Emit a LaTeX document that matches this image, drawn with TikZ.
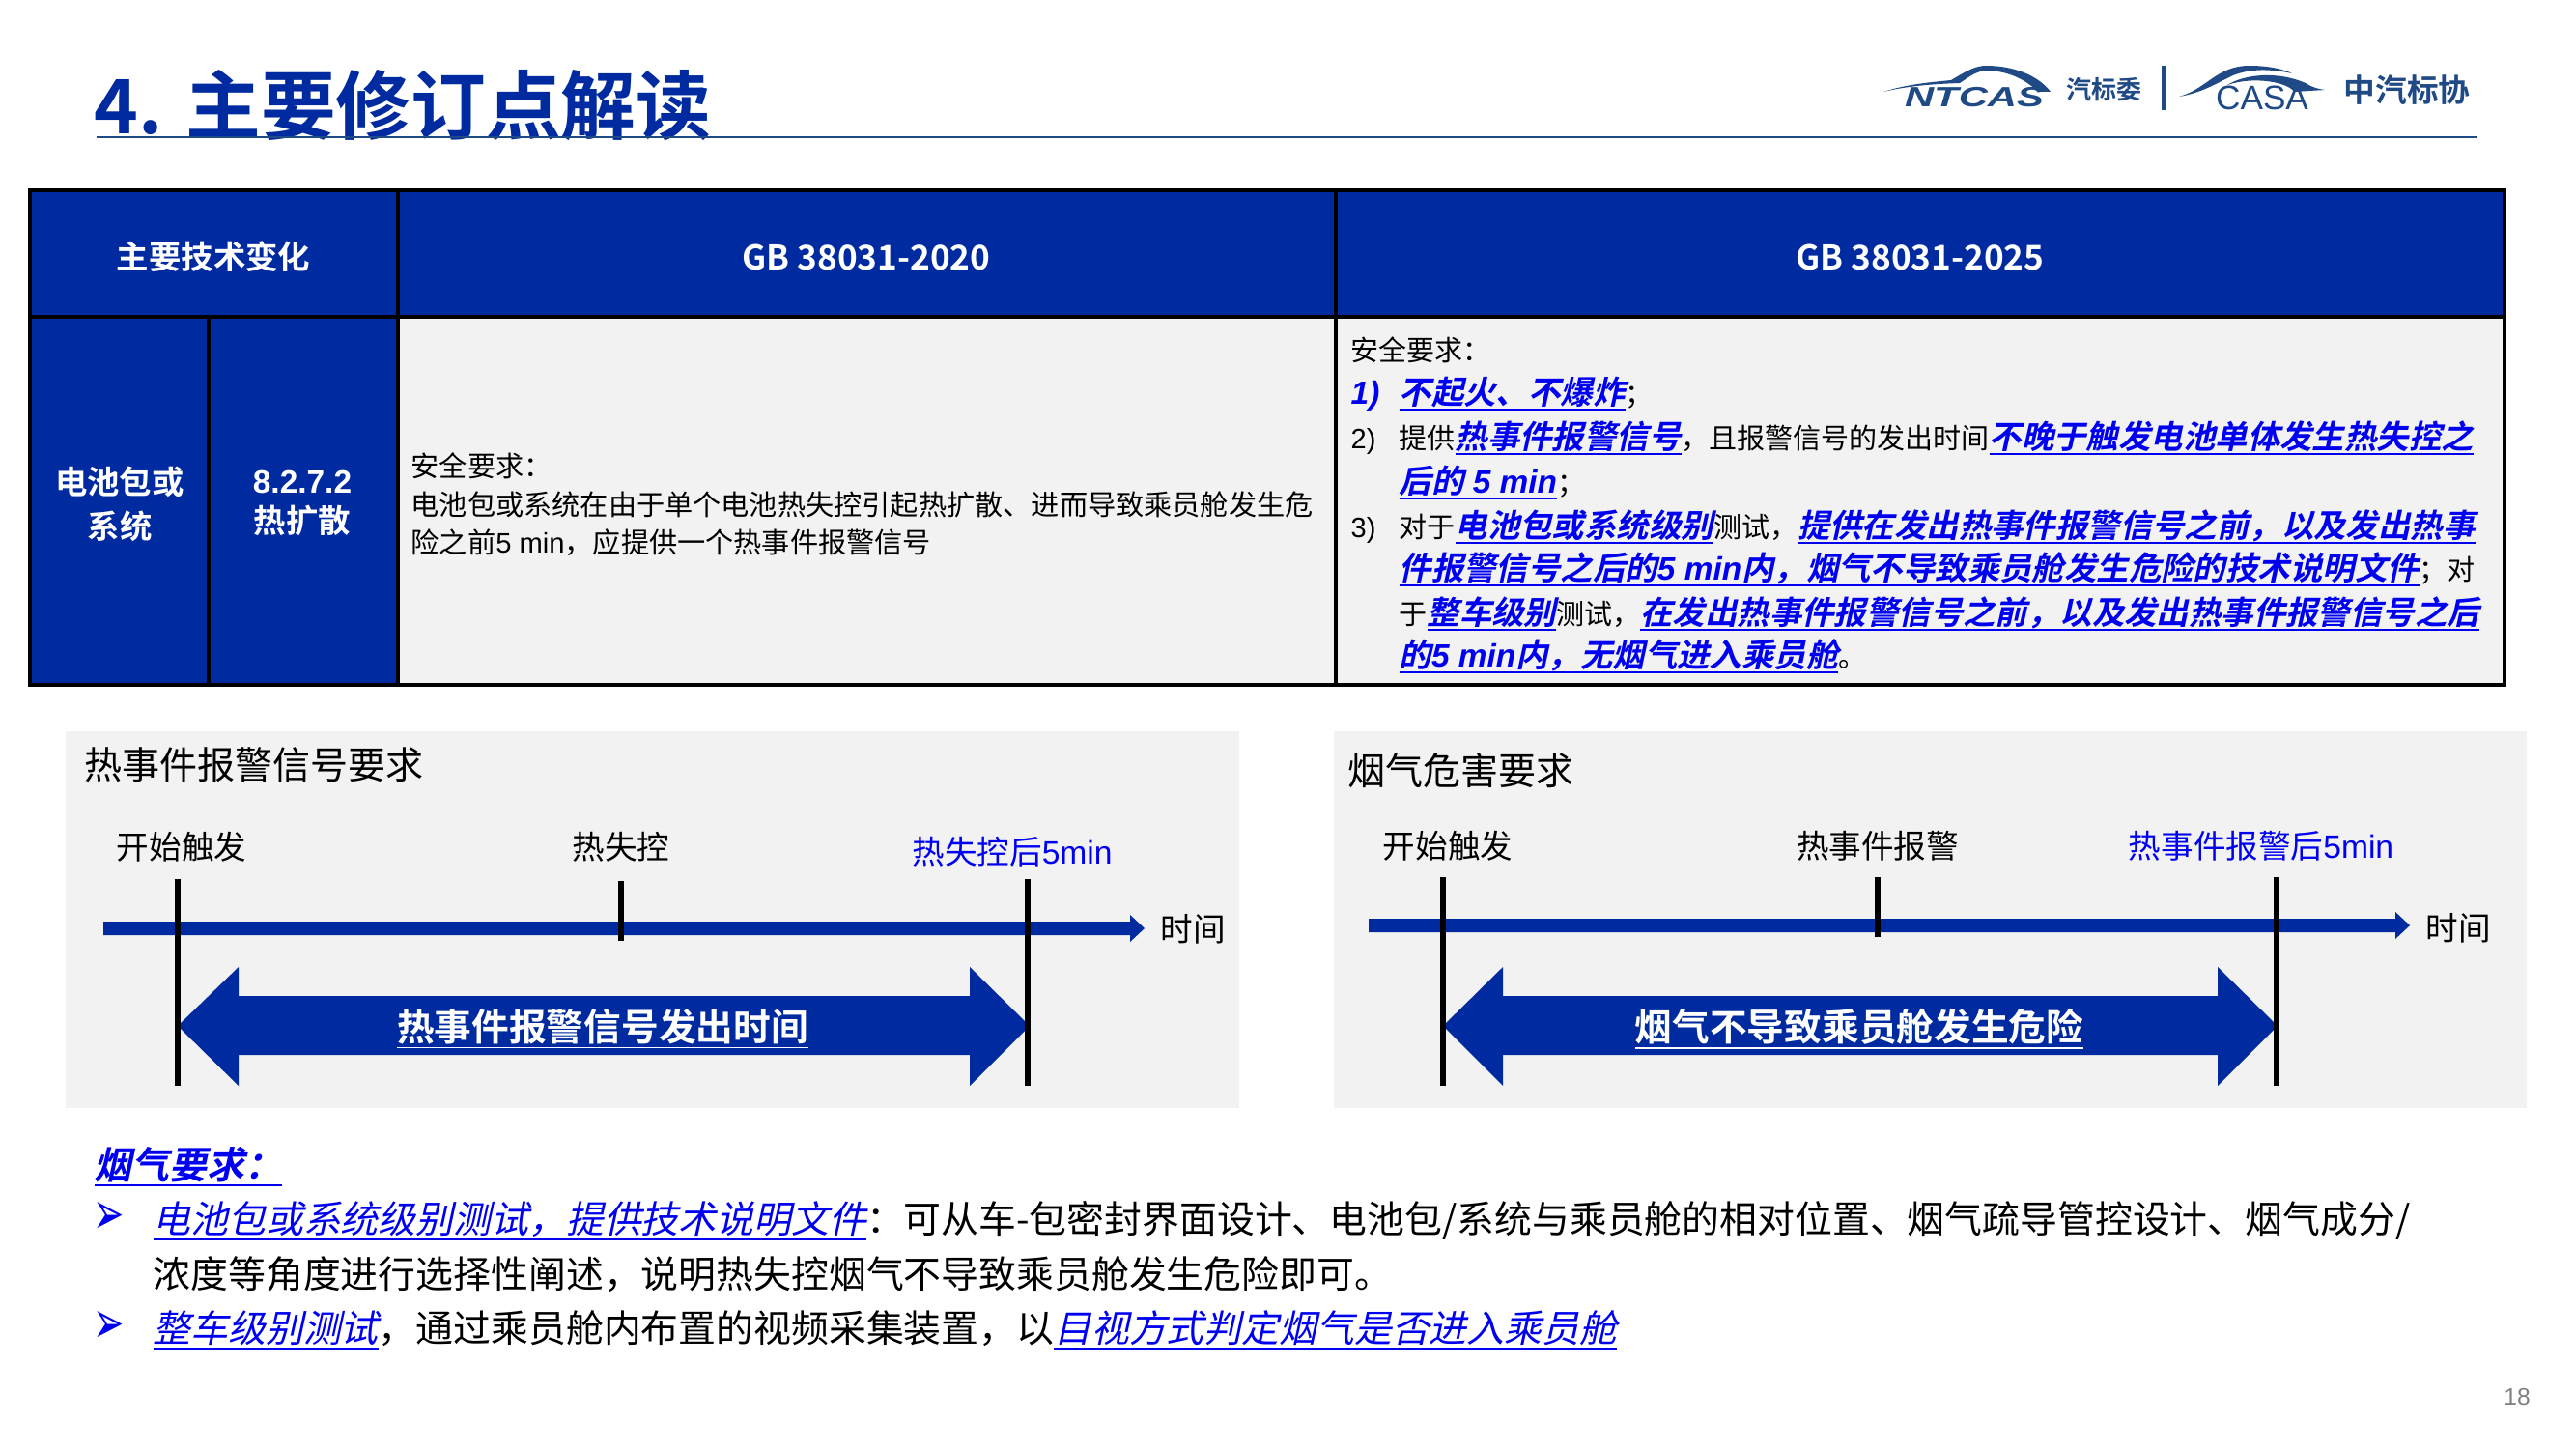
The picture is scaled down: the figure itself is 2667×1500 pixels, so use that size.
\documentclass[tikz,border=0pt]{standalone}
\usepackage{fontspec}
\setmainfont{Noto Sans CJK SC}[BoldFont={Noto Sans CJK SC Bold},ItalicFont={Noto Sans CJK SC},ItalicFeatures={FakeSlant=0.22},BoldItalicFont={Noto Sans CJK SC Bold},BoldItalicFeatures={FakeSlant=0.22}]
\newfontfamily\latinfont{Liberation Sans}
\newfontfamily\symbfont{DejaVu Sans}
\definecolor{headblue}{HTML}{002BA0}
\definecolor{keyblue}{HTML}{0000F0}
\definecolor{logoblue}{HTML}{1F4A86}
\definecolor{cellgray}{HTML}{F2F2F2}
\newcommand{\fs}[1]{\fontsize{#1}{#1}\selectfont}
\newcommand{\ulbox}[1]{\leavevmode\setbox0\hbox{#1}\rlap{\rule[-0.2em]{\wd0}{0.55pt}}\box0}
\newcommand{\keybold}[1]{{\color{keyblue}\bfseries\itshape\ulbox{#1}}}
\newcommand{\keylight}[1]{{\color{keyblue}\itshape\ulbox{#1}}}
\newcommand{\tablekey}[1]{{\fs{9.5}\keybold{#1}}}
\newcommand{\lat}[1]{{\latinfont #1}}
\tikzset{
  headcell/.style={draw=black,line width=0.9pt,fill=headblue},
  bodycell/.style={draw=black,line width=0.9pt,fill=cellgray},
  panel/.style={fill=cellgray,draw=none},
  headtext/.style={text=white,font=\fs{9.5}\bfseries,inner sep=0pt,align=center},
  standardtext/.style={text=white,font=\fs{10}\bfseries,inner sep=0pt},
  celltext/.style={anchor=west,inner sep=0pt,text height=0.85em,text depth=0.2em,font=\fs{8.3}},
  newtext/.style={anchor=west,inner sep=0pt,text height=0.85em,text depth=0.2em,font=\fs{8.25}},
  paneltitle/.style={anchor=west,inner sep=0pt,font=\fs{11.1}},
  marktext/.style={inner sep=0pt,font=\fs{9.55}},
  spantext/.style={text=white,inner sep=0pt,font=\fs{11}\bfseries},
  bigtext/.style={anchor=west,inner sep=0pt,text height=0.85em,text depth=0.2em,font=\fs{11.05}},
  bulletmark/.style={inner sep=0pt,text=keyblue,font=\symbfont\fs{11}},
  timeline/.style={fill=headblue,draw=none},
  tickmark/.style={line width=1.8pt,draw=black}
}
\begin{document}
\begin{tikzpicture}[x=0.01cm,y=-0.01cm]
  \useasboundingbox (0,0) rectangle (2667,1500);

  % title and logos
  \node[anchor=west,inner sep=0pt,text=headblue,font=\fs{22.1}\bfseries] (title) at (97,109) {4. 主要修订点解读};
  \draw[logoblue,line width=0.4pt] (100,142) -- (2565,142);
  \fill[logoblue] (1950,95) .. controls (1975,87) and (2000,85) .. (2020,83) .. controls (2035,74) and (2045,68) .. (2056,68)
    .. controls (2085,68) and (2110,78) .. (2123,95) -- (2110,95) .. controls (2095,80) and (2075,73) .. (2056,73)
    .. controls (2045,74) and (2038,80) .. (2029,86) .. controls (2000,87) and (1975,89) .. (1950,95) -- cycle;
  \node[inner sep=0pt,text=logoblue] (ntcas) at (2044,101) {\scalebox{1.45}[1]{\latinfont\bfseries\itshape\fs{8.2}NTCAS}};
  \node[inner sep=0pt,text=logoblue,font=\fs{7.4}\bfseries] (ntcasname) at (2178,93) {汽标委};
  \fill[logoblue] (2238,68) rectangle (2243,114);
  \fill[logoblue] (2256,100) .. controls (2285,92) and (2295,68) .. (2329,68) .. controls (2350,68) and (2365,72) .. (2373,76)
    .. controls (2350,71) and (2330,71) .. (2312,78) .. controls (2295,86) and (2280,96) .. (2256,100) -- cycle;
  \fill[logoblue] (2306,88) .. controls (2325,76) and (2360,74) .. (2387,86) .. controls (2395,91) and (2400,92) .. (2407,93)
    -- (2375,95) .. controls (2370,86) and (2335,78) .. (2306,88) -- cycle;
  \node[inner sep=0pt,text=logoblue] (casa) at (2342,101) {\latinfont\fs{10}CASA};
  \node[inner sep=0pt,text=logoblue,font=\fs{9.3}\bfseries] (casaname) at (2492,93) {中汽标协};

  % table
  \draw[headcell] (31,197) rectangle (412,328);
  \draw[headcell] (412,197) rectangle (1383,328);
  \draw[headcell] (1383,197) rectangle (2593,328);
  \draw[headcell] (31,328) rectangle (216,709);
  \draw[headcell] (216,328) rectangle (412,709);
  \draw[bodycell] (412,328) rectangle (1383,709);
  \draw[bodycell] (1383,328) rectangle (2593,709);
  \node[headtext] (headchange) at (221,266) {主要技术变化};
  \node[standardtext] (headold) at (897,266) {GB 38031-2020};
  \node[standardtext] (headnew) at (1988,266) {GB 38031-2025};
  \node[headtext] (rowpack) at (124,522) {电池包或\\[3.7pt]系统};
  \node[headtext] (rowclause) at (313,521) {\lat{8.2.7.2}\\[2pt]热扩散};

  \node[celltext] (oldone) at (425,482) {安全要求：};
  \node[celltext] (oldtwo) at (425,522) {电池包或系统在由于单个电池热失控引起热扩散、进而导致乘员舱发生危};
  \node[celltext] (oldthree) at (425,561) {险之前\lat{5 min}，应提供一个热事件报警信号};

  \node[newtext] (newzero) at (1398,362) {安全要求：};
  \node[newtext] (numone) at (1398,407) {\color{keyblue}\fs{9.5}\bfseries\itshape\lat{1)}};
  \node[newtext] (newone) at (1448,407) {\tablekey{不起火、不爆炸}；};
  \node[newtext] (numtwo) at (1398,453) {\lat{2)}};
  \node[newtext] (newtwo) at (1448,453) {提供\tablekey{热事件报警信号}，且报警信号的发出时间\tablekey{不晚于触发电池单体发生热失控之}};
  \node[newtext] (newthree) at (1448,499) {\tablekey{后的\lat{ 5 min}}；};
  \node[newtext] (numthree) at (1398,545) {\lat{3)}};
  \node[newtext] (newfour) at (1448,545) {对于\tablekey{电池包或系统级别}测试，\tablekey{提供在发出热事件报警信号之前，以及发出热事}};
  \node[newtext] (newfive) at (1448,589) {\tablekey{件报警信号之后的\lat{5 min}内，烟气不导致乘员舱发生危险的技术说明文件}；对};
  \node[newtext] (newsix) at (1448,635) {于\tablekey{整车级别}测试，\tablekey{在发出热事件报警信号之前，以及发出热事件报警信号之后}};
  \node[newtext] (newseven) at (1448,679) {\tablekey{的\lat{5 min}内，无烟气进入乘员舱}。};

  % left panel
  \fill[panel] (68,757) rectangle (1283,1147);
  \node[paneltitle] (alarmtitle) at (87,792) {热事件报警信号要求};
  \node[marktext] (alarmstart) at (188,877) {开始触发};
  \node[marktext] (alarmrunaway) at (643,877) {热失控};
  \node[marktext,text=keyblue] (alarmend) at (1048,882) {热失控后\lat{5min}};
  \node[marktext] (alarmtime) at (1235,962) {时间};
  \fill[timeline] (107,954) -- (1170,954) -- (1170,947) -- (1185,961) -- (1170,975) -- (1170,968) -- (107,968) -- cycle;
  \fill[timeline] (184,1062) -- (247,1001) -- (247,1031) -- (1004,1031) -- (1004,1001) -- (1066,1062)
    -- (1004,1124) -- (1004,1092) -- (247,1092) -- (247,1124) -- cycle;
  \draw[tickmark] (184,910) -- (184,1124);
  \draw[tickmark] (643,912) -- (643,974);
  \draw[tickmark] (1064,910) -- (1064,1124);
  \node[spantext] (alarmspan) at (624,1065) {\ulbox{热事件报警信号发出时间}};

  % right panel
  \fill[panel] (1381,757) rectangle (2616,1147);
  \node[paneltitle] (smoketitle) at (1395,798) {烟气危害要求};
  \node[marktext] (smokestart) at (1499,876) {开始触发};
  \node[marktext] (smokealarm) at (1944,876) {热事件报警};
  \node[marktext,text=keyblue] (smokeend) at (2341,876) {热事件报警后\lat{5min}};
  \node[marktext] (smoketime) at (2545,961) {时间};
  \fill[timeline] (1417,951) -- (2480,951) -- (2480,944) -- (2495,958) -- (2480,972) -- (2480,965) -- (1417,965) -- cycle;
  \fill[timeline] (1494,1062) -- (1556,1001) -- (1556,1031) -- (2296,1031) -- (2296,1001) -- (2358,1062)
    -- (2296,1124) -- (2296,1092) -- (1556,1092) -- (1556,1124) -- cycle;
  \draw[tickmark] (1494,908) -- (1494,1124);
  \draw[tickmark] (1944,908) -- (1944,970);
  \draw[tickmark] (2357,908) -- (2357,1124);
  \node[spantext] (smokespan) at (1925,1065) {\ulbox{烟气不导致乘员舱发生危险}};

  % notes
  \node[bigtext] (notehead) at (97,1209) {\keybold{烟气要求：}};
  \node[bulletmark] (bulletone) at (113,1261) {\scalebox{1}[1.6]{➢}};
  \node[bigtext] (noteone) at (158,1265) {\keylight{电池包或系统级别测试，提供技术说明文件}：可从车-包密封界面设计、电池包/系统与乘员舱的相对位置、烟气疏导管控设计、烟气成分/};
  \node[bigtext] (notetwo) at (158,1322) {浓度等角度进行选择性阐述，说明热失控烟气不导致乘员舱发生危险即可。};
  \node[bulletmark] (bullettwo) at (113,1374) {\scalebox{1}[1.6]{➢}};
  \node[bigtext] (notethree) at (158,1378) {\keylight{整车级别测试}，通过乘员舱内布置的视频采集装置，以\keylight{目视方式判定烟气是否进入乘员舱}};

  \node[inner sep=0pt,text=gray,font=\latinfont\fs{7}] (pagenum) at (2606,1446) {18};
\end{tikzpicture}
\end{document}
